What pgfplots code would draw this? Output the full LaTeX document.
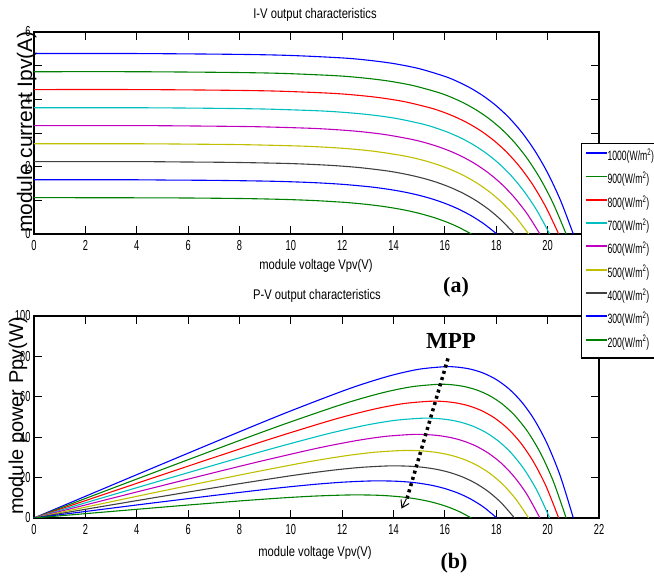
\documentclass[border=0pt]{standalone}
\usepackage{pgfplots}
\pgfplotsset{compat=1.18}
\usepackage{pgfplotstable}
\usepackage{fontspec}
\setmainfont{Liberation Sans}
\newfontfamily\sqfont[FakeStretch=0.8]{Liberation Sans}
\newfontfamily\tkfont[FakeStretch=0.64]{Liberation Sans}
\newfontfamily\serifb{Liberation Serif}
\usetikzlibrary{arrows.meta}

\definecolor{mblue}{RGB}{0,0,255}
\definecolor{mgreen}{RGB}{0,128,0}
\definecolor{mred}{RGB}{255,0,0}
\definecolor{mcyan}{RGB}{0,191,191}
\definecolor{mmag}{RGB}{191,0,191}
\definecolor{myel}{RGB}{191,191,0}
\definecolor{mgray}{RGB}{64,64,64}

\pgfplotstableread{
V I P
0 5.36 0
4 5.36 21.44
8 5.335 42.68
10 5.303 53.03
12 5.230 62.76
13 5.163 67.12
14 5.063 70.88
15 4.911 73.67
16 4.681 74.90
16.5 4.525 74.66
17 4.334 73.68
17.5 4.098 71.72
18 3.808 68.54
18.5 3.452 63.86
19 3.014 57.27
19.5 2.476 48.28
20 1.814 36.28
20.5 1.001 20.52
21 0 0
}\tA
\pgfplotstableread{
V I P
0 4.82 0
4 4.82 19.28
7.72 4.798 37.04
9.72 4.769 46.35
11.72 4.703 55.12
12.72 4.643 59.06
13.72 4.553 62.47
14.72 4.416 65.00
15.72 4.209 66.17
16.22 4.070 66.02
16.72 3.897 65.16
17.22 3.685 63.46
17.72 3.425 60.69
18.22 3.105 56.57
18.72 2.711 50.75
19.22 2.227 42.80
19.72 1.632 32.18
20.22 0.900 18.20
20.72 0 0
}\tB
\pgfplotstableread{
V I P
0 4.29 0
4 4.29 17.16
7.43 4.270 31.73
9.43 4.245 40.03
11.43 4.186 47.85
12.43 4.133 51.37
13.43 4.052 54.42
14.43 3.930 56.71
15.43 3.746 57.80
15.93 3.622 57.70
16.43 3.468 56.98
16.93 3.280 55.53
17.43 3.048 53.13
17.93 2.763 49.54
18.43 2.413 44.47
18.93 1.982 37.52
19.43 1.452 28.21
19.93 0.801 15.96
20.43 0 0
}\tC
\pgfplotstableread{
V I P
0 3.75 0
4 3.75 15.00
7.08 3.733 26.43
9.08 3.710 33.69
11.08 3.659 40.54
12.08 3.612 43.63
13.08 3.542 46.33
14.08 3.436 48.38
15.08 3.275 49.39
15.58 3.166 49.33
16.08 3.032 48.75
16.58 2.867 47.54
17.08 2.664 45.50
17.58 2.415 42.46
18.08 2.109 38.13
18.58 1.733 32.20
19.08 1.269 24.21
19.58 0.700 13.71
20.08 0 0
}\tD
\pgfplotstableread{
V I P
0 3.22 0
4 3.22 12.88
6.70 3.205 21.47
8.70 3.186 27.72
10.70 3.142 33.62
11.70 3.102 36.29
12.70 3.042 38.63
13.70 2.950 40.42
14.70 2.812 41.34
15.20 2.719 41.33
15.70 2.603 40.87
16.20 2.462 39.88
16.70 2.288 38.21
17.20 2.074 35.67
17.70 1.811 32.05
18.20 1.488 27.08
18.70 1.090 20.38
19.20 0.601 11.54
19.70 0 0
}\tE
\pgfplotstableread{
V I P
0 2.68 0
4 2.68 10.72
6.26 2.668 16.70
8.26 2.652 21.91
10.26 2.615 26.83
11.26 2.582 29.07
12.26 2.532 31.04
13.26 2.455 32.55
14.26 2.340 33.37
14.76 2.263 33.40
15.26 2.167 33.07
15.76 2.049 32.29
16.26 1.904 30.96
16.76 1.726 28.93
17.26 1.507 26.01
17.76 1.238 21.99
18.26 0.907 16.56
18.76 0.500 9.38
19.26 0 0
}\tF
\pgfplotstableread{
V I P
0 2.15 0
4 2.15 8.60
5.71 2.140 12.22
7.71 2.127 16.40
9.71 2.098 20.37
10.71 2.071 22.18
11.71 2.031 23.78
12.71 1.970 25.04
13.71 1.878 25.75
14.21 1.815 25.79
14.71 1.738 25.57
15.21 1.644 25.00
15.71 1.528 24.00
16.21 1.385 22.45
16.71 1.209 20.20
17.21 0.993 17.09
17.71 0.728 12.89
18.21 0.401 7.30
18.71 0 0
}\tG
\pgfplotstableread{
V I P
0 1.61 0
4 1.61 6.44
5.02 1.603 8.05
7.02 1.593 11.18
9.02 1.571 14.17
10.02 1.551 15.54
11.02 1.521 16.76
12.02 1.475 17.73
13.02 1.406 18.31
13.52 1.359 18.37
14.02 1.302 18.25
14.52 1.231 17.87
15.02 1.144 17.18
15.52 1.037 16.09
16.02 0.905 14.50
16.52 0.744 12.29
17.02 0.545 9.28
17.52 0.301 5.27
18.02 0 0
}\tH
\pgfplotstableread{
V I P
0 1.08 0
4.03 1.075 4.33
6.03 1.069 6.45
8.03 1.054 8.46
9.03 1.040 9.39
10.03 1.020 10.23
11.03 0.989 10.91
12.03 0.943 11.34
12.53 0.912 11.43
13.03 0.873 11.38
13.53 0.826 11.18
14.03 0.767 10.76
14.53 0.696 10.11
15.03 0.607 9.12
15.53 0.499 7.75
16.03 0.366 5.87
16.53 0.202 3.34
17.03 0 0
}\tI

\pgfplotsset{
  mystyle/.style={
    scale only axis, width=565pt, height=202pt,
    anchor=south west,
    xmin=0, xmax=22, xtick={0,2,...,22},
    tick align=inside, major tick length=8pt,
    xtick pos=both, ytick pos=both,
    axis line style={line width=1.3pt},
    every tick/.style={black, line width=0.9pt},
    tick label style={font=\tkfont\fontsize{14.5}{14.5}\selectfont},
    xticklabel style={yshift=-3pt},
    /pgf/number format/assume math mode=true,
    every axis plot/.append style={line width=1.1pt, smooth, no markers},
  }
}

\begin{document}
\begin{tikzpicture}
\useasboundingbox (0pt,0pt) rectangle (654pt,579pt);
\begin{axis}[mystyle, at={(34pt,345pt)},
  ymin=0, ymax=6, ytick={0,1,...,6}, yticklabels={0,,2,,4,,6}]
\addplot[draw=mblue] table[x=V,y=I] {\tA};
\addplot[draw=mgreen] table[x=V,y=I] {\tB};
\addplot[draw=mred] table[x=V,y=I] {\tC};
\addplot[draw=mcyan] table[x=V,y=I] {\tD};
\addplot[draw=mmag] table[x=V,y=I] {\tE};
\addplot[draw=myel] table[x=V,y=I] {\tF};
\addplot[draw=mgray] table[x=V,y=I] {\tG};
\addplot[draw=mblue] table[x=V,y=I] {\tH};
\addplot[draw=mgreen] table[x=V,y=I] {\tI};
\end{axis}
\begin{axis}[mystyle, at={(34pt,61pt)},
  ymin=0, ymax=100, ytick={0,20,...,100},
  legend style={at={(axis description cs:0.9681,1.8564)}, anchor=north west,
    draw=black, line width=1.3pt, fill=white,
    font=\tkfont\fontsize{13.5}{13.5}\selectfont,
    row sep=9.3pt, inner xsep=3pt, inner ysep=7pt,
    nodes={inner sep=0pt, text height=10pt, text depth=4pt}},
  legend cell align=left,
  legend image code/.code={\draw[#1, line width=1.9pt] (0pt,4.5pt) -- (21pt,4.5pt);}]
\addplot[draw=mblue] table[x=V,y=P] {\tA};
\addplot[draw=mgreen] table[x=V,y=P] {\tB};
\addplot[draw=mred] table[x=V,y=P] {\tC};
\addplot[draw=mcyan] table[x=V,y=P] {\tD};
\addplot[draw=mmag] table[x=V,y=P] {\tE};
\addplot[draw=myel] table[x=V,y=P] {\tF};
\addplot[draw=mgray] table[x=V,y=P] {\tG};
\addplot[draw=mblue] table[x=V,y=P] {\tH};
\addplot[draw=mgreen] table[x=V,y=P] {\tI};
\legend{1000(W/m\textsuperscript{2}),900(W/m\textsuperscript{2}),800(W/m\textsuperscript{2}),700(W/m\textsuperscript{2}),600(W/m\textsuperscript{2}),500(W/m\textsuperscript{2}),400(W/m\textsuperscript{2}),300(W/m\textsuperscript{2}),200(W/m\textsuperscript{2})}
\draw[black, line width=3.5pt, dash pattern=on 3pt off 3.5pt] (axis cs:16.12,79) -- (axis cs:14.52,9.5);
\draw[black, line width=1pt, -{Straight Barb[length=7pt,width=9pt]}] (axis cs:14.5,9.5) -- (axis cs:14.31,4.66);
\end{axis}
\node[font=\sqfont\fontsize{14}{14}\selectfont] at (315pt,564pt) {I-V output characteristics};
\node[font=\sqfont\fontsize{14}{14}\selectfont] at (316pt,313pt) {module voltage Vpv(V)};
\node[font=\sqfont\fontsize{14}{14}\selectfont] at (317pt,283pt) {P-V output characteristics};
\node[font=\sqfont\fontsize{14}{14}\selectfont] at (315pt,26pt) {module voltage Vpv(V)};
\node[rotate=90, anchor=base, font=\fontsize{21}{21}\selectfont] at (32pt,447pt) {module current Ipv(A)};
\node[rotate=90, anchor=base, font=\fontsize{20}{20}\selectfont] at (23pt,163pt) {module power Ppv(W)};
\node[font=\serifb\bfseries\fontsize{22}{22}\selectfont] at (456pt,292pt) {(a)};
\node[font=\serifb\bfseries\fontsize{22}{22}\selectfont] at (454pt,16pt) {(b)};
\node[font=\serifb\bfseries\fontsize{23}{23}\selectfont] at (451pt,238pt) {MPP};
\end{tikzpicture}
\end{document}
